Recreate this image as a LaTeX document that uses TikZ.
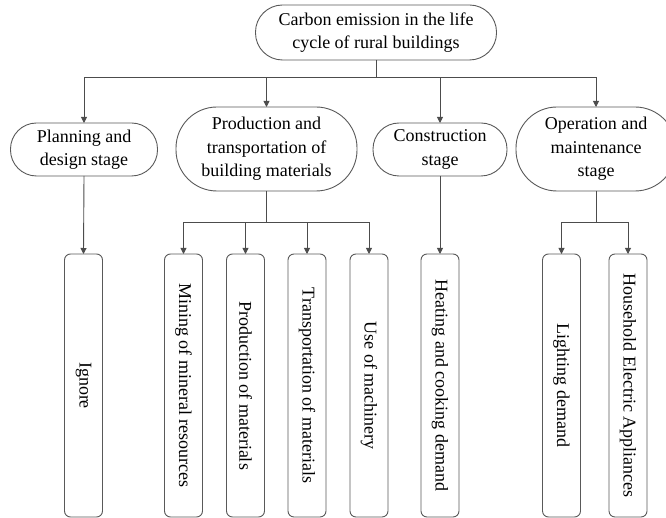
\documentclass[tikz,border=0pt]{standalone}
\usepackage{fontspec}
\setmainfont{Liberation Serif}
\usetikzlibrary{arrows.meta}
\begin{document}
\begin{tikzpicture}[x=1pt,y=-1pt,
  every node/.style={inner sep=0pt,outer sep=0pt,font=\fontsize{18}{23.5}\selectfont,text=black},
  capsule/.style={draw=black!65,line width=0.9pt,align=center},
  tallbox/.style={draw=black!65,line width=0.9pt,rounded corners=6pt,minimum width=38pt,minimum height=263pt},
  vtext/.style={rotate=-90},
  conn/.style={draw=black!70,line width=0.9pt},
  arr/.style={conn,-{Triangle[length=6pt,width=6pt]}}]
\useasboundingbox (0,0) rectangle (666,518);
\begin{scope}
\clip (0,0) rectangle (666,518);
% top node
\node[capsule,minimum width=241pt,minimum height=55pt,rounded corners=27pt] (top) at (376,32.5) {Carbon emission in the life\\cycle of rural buildings};
% level 2
\node[capsule,minimum width=147pt,minimum height=53pt,rounded corners=26pt] (plan) at (84,149.5) {Planning and\\design stage};
\node[capsule,minimum width=181pt,minimum height=84pt,rounded corners=41pt] (prod) at (266.5,149) {Production and\\transportation of\\building materials};
\node[capsule,minimum width=134pt,minimum height=53pt,rounded corners=26pt] (cons) at (440,149.5) {Construction\\stage};
\node[capsule,minimum width=160pt,minimum height=84pt,rounded corners=41pt] (oper) at (596,149) {Operation and\\maintenance\\stage};
% level 3 boxes
\node[tallbox] (ign) at (83.5,385.5) {};
\node[tallbox] (mine) at (183.5,385.5) {};
\node[tallbox] (pmat) at (245.5,385.5) {};
\node[tallbox] (tmat) at (307,385.5) {};
\node[tallbox] (mach) at (369,385.5) {};
\node[tallbox] (heat) at (440,385.5) {};
\node[tallbox] (light) at (561.5,385.5) {};
\node[tallbox] (house) at (628,385.5) {};
\node[vtext] (tign) at (ign.center) {Ignore};
\node[vtext] (tmine) at (mine.center) {Mining of mineral resources};
\node[vtext] (tpmat) at (pmat.center) {Production of materials};
\node[vtext] (ttmat) at (tmat.center) {Transportation of materials};
\node[vtext] (tmach) at (mach.center) {Use of machinery};
\node[vtext] (theat) at (heat.center) {Heating and cooking demand};
\node[vtext] (tlight) at (light.center) {Lighting demand};
\node[vtext] (thouse) at (house.center) {Household Electric Appliances};
% junctions
\coordinate (j0) at (376,77);
\coordinate (j1) at (266.5,222);
\coordinate (j2) at (596,222);
% connectors
\draw[conn] (top.south) -- (j0);
\draw[arr] (j0) -| (plan.north);
\draw[arr] (j0) -| (prod.north);
\draw[arr] (j0) -| (cons.north);
\draw[arr] (j0) -| (oper.north);
\draw[arr] (plan.south) -- (ign.north);
\draw[arr] (cons.south) -- (heat.north);
\draw[conn] (prod.south) -- (j1);
\draw[arr] (j1) -| (mine.north);
\draw[arr] (j1) -| (pmat.north);
\draw[arr] (j1) -| (tmat.north);
\draw[arr] (j1) -| (mach.north);
\draw[conn] (oper.south) -- (j2);
\draw[arr] (j2) -| (light.north);
\draw[arr] (j2) -| (house.north);
\end{scope}
\end{tikzpicture}
\end{document}
